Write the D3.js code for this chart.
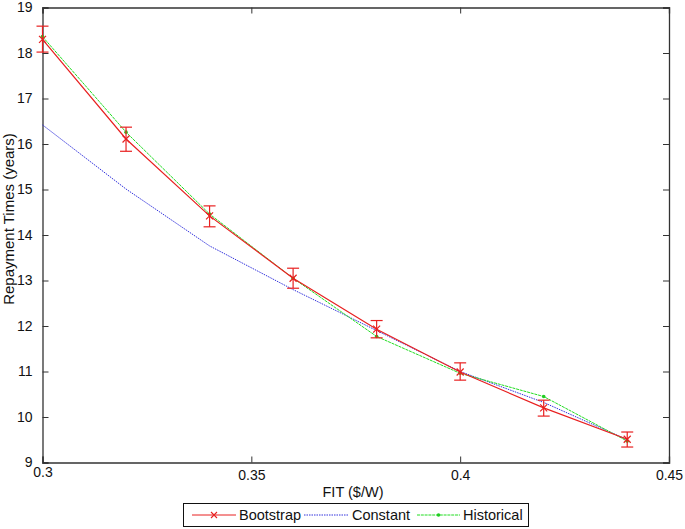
<!DOCTYPE html>
<html><head><meta charset="utf-8">
<script src="https://cdn.jsdelivr.net/npm/d3@7"></script>
<style>body{margin:0;background:#fff;} text{font-family:"Liberation Sans",Arial,sans-serif;}</style>
</head><body><svg id="c" width="685" height="529"></svg>
<script>
const fit = [0.30, 0.32, 0.34, 0.36, 0.38, 0.40, 0.42, 0.44];
const bootstrap = [18.30, 16.11, 14.42, 13.05, 11.93, 10.99, 10.20, 9.51];
const bootLow = [18.02, 15.84, 14.18, 12.83, 11.74, 10.81, 10.02, 9.34];
const bootHigh = [18.59, 16.37, 14.64, 13.27, 12.12, 11.19, 10.37, 9.67];
const constant = [16.42, 15.01, 13.76, 12.80, 11.90, 11.00, 10.32, 9.50];
const historical = [18.36, 16.26, 14.46, 13.05, 11.77, 10.96, 10.45, 9.47];
const xTicks = [0.3, 0.35, 0.4, 0.45];
const yTicks = [9, 10, 11, 12, 13, 14, 15, 16, 17, 18, 19];
const seriesNames = ["Bootstrap", "Constant", "Historical"];

const svg = d3.select("#c");
const L = 42.5, R = 669, T = 7.5, B = 462.5;
const x = d3.scaleLinear().domain([0.3, 0.45]).range([L, R]);
const y = d3.scaleLinear().domain([9, 19]).range([B, T]);
const axisColor = "#333";
const tl = 6;

const gB = svg.append("g").attr("transform", `translate(0,${B})`)
  .call(d3.axisBottom(x).tickValues(xTicks).tickSize(-tl).tickPadding(tl + 4).tickFormat(d => d3.format("")(d)));
const gT = svg.append("g").attr("transform", `translate(0,${T})`)
  .call(d3.axisTop(x).tickValues(xTicks).tickSize(-tl).tickFormat(""));
const gL = svg.append("g").attr("transform", `translate(${L},0)`)
  .call(d3.axisLeft(y).tickValues(yTicks).tickSize(-tl).tickPadding(tl + 4));
const gR = svg.append("g").attr("transform", `translate(${R},0)`)
  .call(d3.axisRight(y).tickValues(yTicks).tickSize(-tl).tickFormat(""));
[gB, gT, gL, gR].forEach(g => {
  g.select(".domain").attr("stroke", axisColor).attr("stroke-width", 1.3);
  g.selectAll(".tick line").attr("stroke", axisColor);
  g.selectAll(".tick text").attr("font-size", 14).attr("fill", "#111").attr("font-family", "Liberation Sans, Arial, sans-serif");
});
gB.selectAll(".tick text").attr("dy", "0.5em");
gB.selectAll(".tick").filter(d => d === 0.3).select("text").attr("dy", "0.35em");

svg.append("text").attr("x", 353).attr("y", 497).attr("text-anchor", "middle").attr("font-size", 14.5).attr("fill", "#111").text("FIT ($/W)");
svg.append("text").attr("transform", "translate(14,219) rotate(-90)").attr("text-anchor", "middle").attr("font-size", 15).attr("fill", "#111").text("Repayment Times (years)");

const line = d3.line().x((d, i) => x(fit[i])).y(d => y(d));

svg.append("path").datum(constant).attr("d", line).attr("fill", "none").attr("stroke", "#3333dd").attr("stroke-width", 1).attr("stroke-dasharray", "1.5,1");
svg.append("path").datum(historical).attr("d", line).attr("fill", "none").attr("stroke", "#22dd22").attr("stroke-width", 1).attr("stroke-dasharray", "3,0.8");
svg.selectAll(".hdot").data(historical).enter().append("circle").attr("cx", (d, i) => x(fit[i])).attr("cy", d => y(d)).attr("r", 1.8).attr("fill", "#22cc22");
svg.append("path").datum(bootstrap).attr("d", line).attr("fill", "none").attr("stroke", "#e82020").attr("stroke-width", 1.2);
const cap = 6;
const eb = svg.append("g").attr("stroke", "#e82020").attr("stroke-width", 1.2);
fit.forEach((f, i) => {
  const cx = x(f);
  eb.append("line").attr("x1", cx).attr("x2", cx).attr("y1", y(bootLow[i])).attr("y2", y(bootHigh[i]));
  eb.append("line").attr("x1", cx - cap).attr("x2", cx + cap).attr("y1", y(bootLow[i])).attr("y2", y(bootLow[i]));
  eb.append("line").attr("x1", cx - cap).attr("x2", cx + cap).attr("y1", y(bootHigh[i])).attr("y2", y(bootHigh[i]));
  const cy = y(bootstrap[i]), m = 3.5;
  eb.append("path").attr("d", `M${cx - m},${cy - m}L${cx + m},${cy + m}M${cx - m},${cy + m}L${cx + m},${cy - m}`);
});

const lg = svg.append("g");
lg.append("rect").attr("x", 183.5).attr("y", 503.5).attr("width", 345).attr("height", 23).attr("fill", "#fff").attr("stroke", "#111").attr("stroke-width", 1);
const entries = [
  {name: seriesNames[0], x0: 192, x1: 236, tx: 239, color: "#e82020", dash: null, mark: "x"},
  {name: seriesNames[1], x0: 304, x1: 348, tx: 352, color: "#3333dd", dash: "1.5,1", mark: null},
  {name: seriesNames[2], x0: 417, x1: 460, tx: 463, color: "#22dd22", dash: "3,0.8", mark: "dot"}
];
entries.forEach(e => {
  const ly = 515;
  lg.append("line").attr("x1", e.x0).attr("x2", e.x1).attr("y1", ly).attr("y2", ly).attr("stroke", e.color).attr("stroke-width", 1).attr("stroke-dasharray", e.dash);
  const mx = (e.x0 + e.x1) / 2;
  if (e.mark === "x") {
    const m = 3;
    lg.append("path").attr("d", `M${mx - m},${ly - m}L${mx + m},${ly + m}M${mx - m},${ly + m}L${mx + m},${ly - m}`).attr("stroke", e.color).attr("stroke-width", 1.1);
  } else if (e.mark === "dot") {
    lg.append("circle").attr("cx", mx).attr("cy", ly).attr("r", 1.8).attr("fill", "#22cc22");
  }
  lg.append("text").attr("x", e.tx).attr("y", ly + 5).attr("font-size", 14.5).attr("fill", "#111").text(e.name);
});
</script></body></html>
